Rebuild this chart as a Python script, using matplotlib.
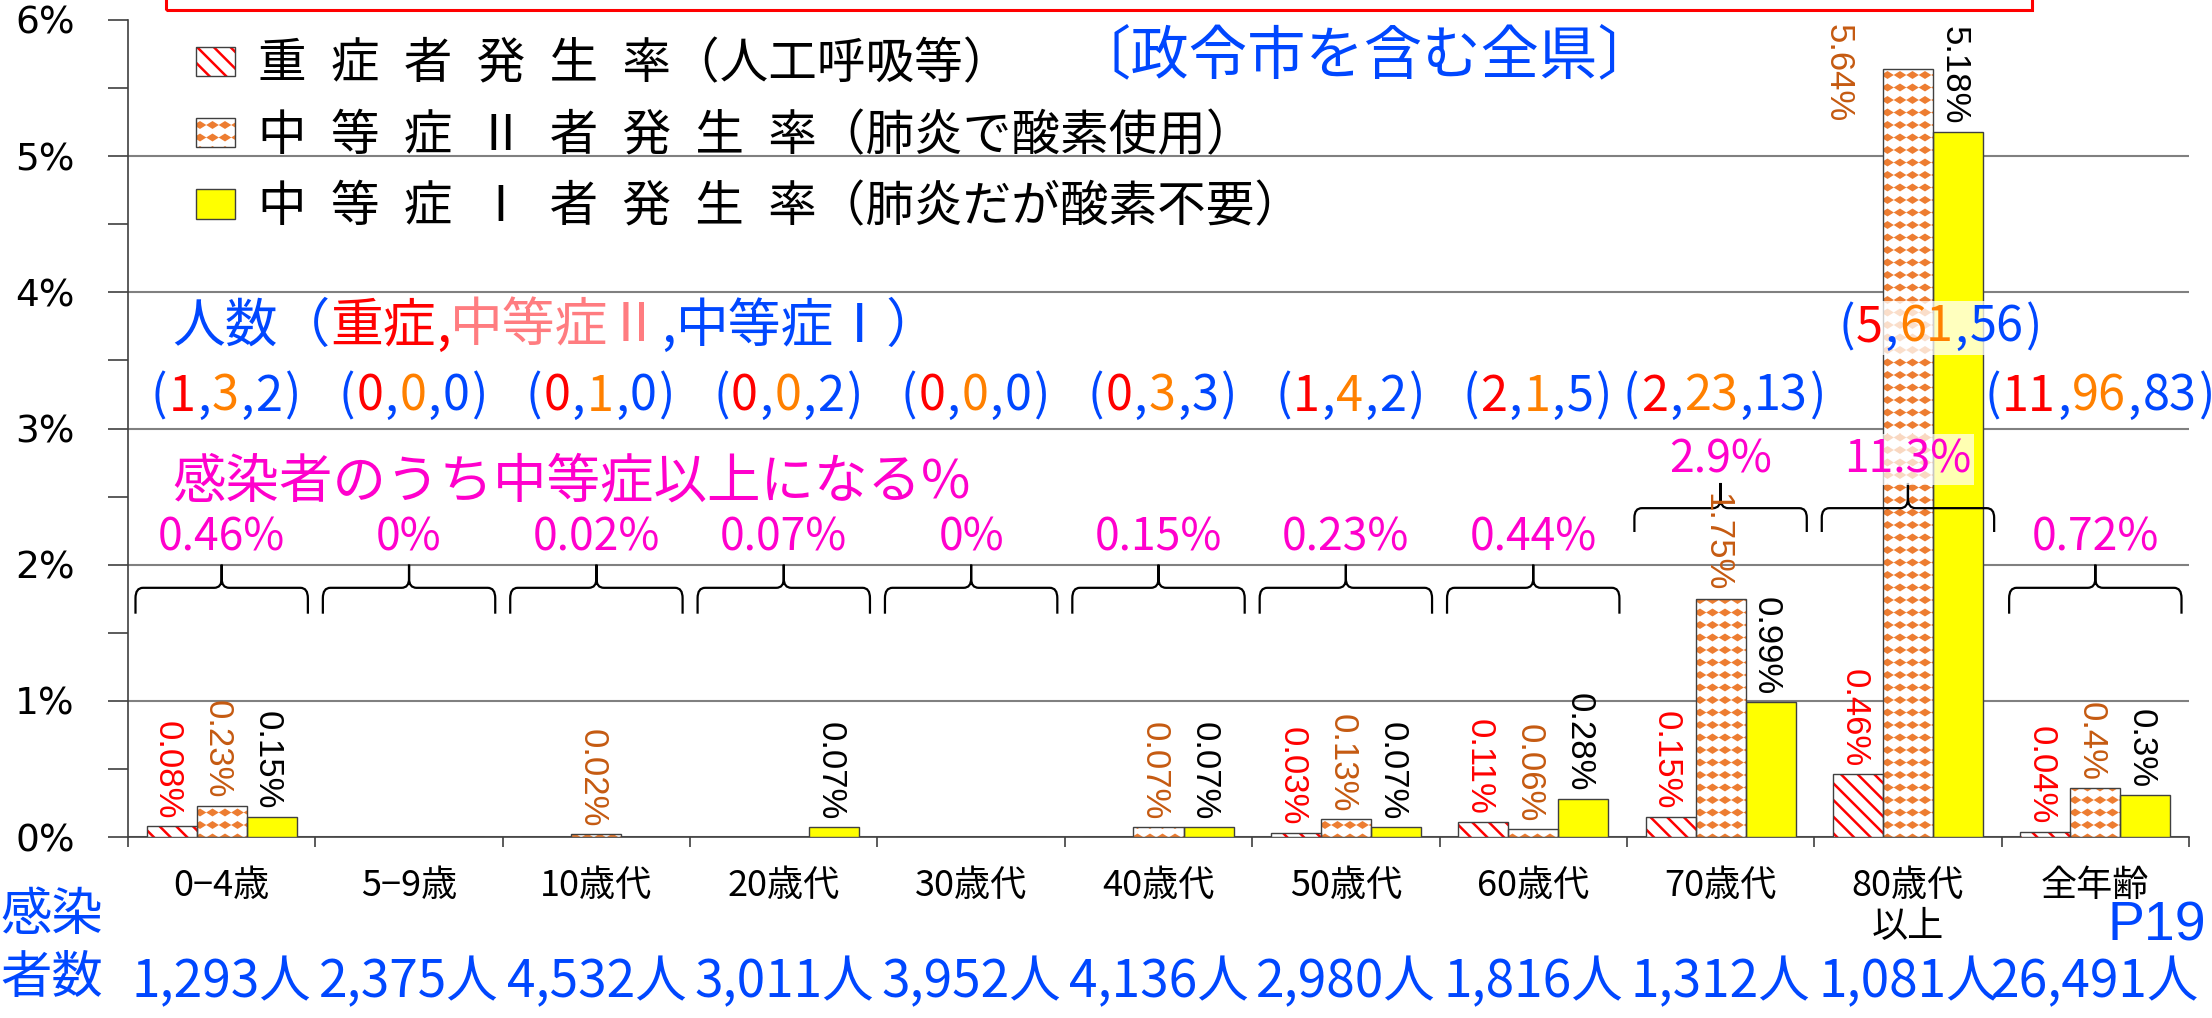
import numpy as np
import matplotlib
matplotlib.use('Agg')
import matplotlib.pyplot as plt
from matplotlib import hatch as mhatch
from matplotlib.path import Path
from matplotlib.patches import Patch, PathPatch, Rectangle
from matplotlib.offsetbox import TextArea, HPacker, AnnotationBbox
import matplotlib.transforms as mtransforms

CJK = ['Noto Sans CJK JP', 'DejaVu Sans']
NARROW = ['Liberation Sans Narrow', 'Liberation Sans', 'DejaVu Sans']

BLUE = '#0047FF'
RED = '#FF0000'
ORANGE = '#FF8000'
SALMON = '#FF7C80'
MAGENTA = '#FF00CC'

# ---- data ----
groups = ['0−4歳', '5−9歳', '10歳代', '20歳代', '30歳代', '40歳代',
          '50歳代', '60歳代', '70歳代', '80歳代\n以上', '全年齢']
infected = [1293, 2375, 4532, 3011, 3952, 4136, 2980, 1816, 1312, 1081, 26491]

rate_severe = [0.08, 0, 0, 0, 0, 0, 0.03, 0.11, 0.15, 0.46, 0.04]
rate_mod2 = [0.23, 0, 0.02, 0, 0, 0.07, 0.13, 0.06, 1.75, 5.64, 0.36]
rate_mod1 = [0.15, 0, 0, 0.07, 0, 0.07, 0.07, 0.28, 0.99, 5.18, 0.31]

lab_severe = ['0.08%', '', '', '', '', '', '0.03%', '0.11%', '0.15%', '0.46%', '0.04%']
lab_mod2 = ['0.23%', '', '0.02%', '', '', '0.07%', '0.13%', '0.06%', '1.75%', '5.64%', '0.4%']
lab_mod1 = ['0.15%', '', '', '0.07%', '', '0.07%', '0.07%', '0.28%', '0.99%', '5.18%', '0.3%']

n_severe = [1, 0, 0, 0, 0, 0, 1, 2, 2, 5, 11]
n_mod2 = [3, 0, 1, 0, 0, 3, 4, 1, 23, 61, 96]
n_mod1 = [2, 0, 0, 2, 0, 3, 2, 5, 13, 56, 83]

pct_labels = ['0.46%', '0%', '0.02%', '0.07%', '0%', '0.15%', '0.23%', '0.44%',
              '2.9%', '11.3%', '0.72%']


# filled diamonds on a square grid, used in place of the '*' hatch
class DiamondGrid(mhatch.HatchPatternBase):
    def __init__(self, hatch, density):
        self.num_rows = hatch.count('*') * 8
        self.num_vertices = 5 * (self.num_rows + 1) ** 2 if self.num_rows else 0

    def set_vertices_and_codes(self, vertices, codes):
        step = 1.0 / self.num_rows
        shape = np.array([[0, 0.2], [0.32, 0], [0, -0.2], [-0.32, 0], [0, 0.2]]) * step
        k = 0
        for i in range(self.num_rows + 1):
            for j in range(self.num_rows + 1):
                vertices[k:k + 5] = shape + (j * step, i * step)
                codes[k:k + 5] = [Path.MOVETO, Path.LINETO, Path.LINETO,
                                  Path.LINETO, Path.CLOSEPOLY]
                k += 5


mhatch._hatch_types = [t for t in mhatch._hatch_types if t is not mhatch.Stars] + [DiamondGrid]
plt.rcParams['hatch.linewidth'] = 1.8


def color_text(ax, xy, parts, size, align=(0.5, 0.5), coords='data', sep=0, box=None):
    areas = [TextArea(s, textprops=dict(color=c, fontsize=size, family=CJK)) for s, c in parts]
    pack = HPacker(children=areas, align='baseline', pad=0, sep=sep)
    ab = AnnotationBbox(pack, xy, xycoords=coords, box_alignment=align,
                        frameon=box is not None, pad=0.15, bboxprops=box,
                        annotation_clip=False, zorder=6)
    ax.add_artist(ab)
    return ab


def brace(ax, xc, half, y_tip, y_mid, y_end):
    x0, x1 = xc - half, xc + half
    r = 0.04
    ry = (y_mid - y_end) * 0.4
    ys = y_mid + (y_tip - y_mid) * 0.4
    verts = [(x0, y_end), (x0, y_mid - ry), (x0, y_mid), (x0 + r, y_mid),
             (xc - r, y_mid), (xc, y_mid), (xc, ys), (xc, y_tip),
             (xc, ys), (xc, y_mid), (xc + r, y_mid),
             (x1 - r, y_mid), (x1, y_mid), (x1, y_mid - ry), (x1, y_end)]
    codes = [Path.MOVETO, Path.LINETO, Path.CURVE3, Path.CURVE3,
             Path.LINETO, Path.CURVE3, Path.CURVE3, Path.LINETO,
             Path.LINETO, Path.CURVE3, Path.CURVE3,
             Path.LINETO, Path.CURVE3, Path.CURVE3, Path.LINETO]
    ax.add_patch(PathPatch(Path(verts, codes), fill=False, edgecolor='black',
                           linewidth=1.6, zorder=5, clip_on=False))


fig = plt.figure(figsize=(22.12, 10.18), dpi=100)
ax = fig.add_axes([128 / 2212, 181 / 1018, (2189 - 128) / 2212, 817 / 1018])

x = np.arange(len(groups))
w = 0.267

series = [
    (rate_severe, lab_severe, 'white', RED, '\\\\', RED),
    (rate_mod2, lab_mod2, 'white', '#ED7D31', '*', '#C55A11'),
    (rate_mod1, lab_mod1, '#FFFF00', '#FFFF00', None, 'black'),
]
handles = []
for k, (vals, labs, fc, hc, hatch, tc) in enumerate(series):
    xs = x + (k - 1) * w
    ax.bar(xs, vals, w, color=fc, edgecolor=hc, hatch=hatch, linewidth=0, zorder=3)
    ax.bar(xs, vals, w, fill=False, edgecolor='#404040', linewidth=1.0, zorder=4)
    handles.append((Patch(facecolor=fc, edgecolor=hc, hatch=hatch, linewidth=0),
                    Patch(fill=False, edgecolor='#404040', linewidth=1.0)))
    for xi, v, s in zip(xs, vals, labs):
        if not s:
            continue
        if v > 5.5:
            # no room above the bar: put it beside, hanging from the top
            ax.text(xi - 1.4 * w, 5.97, s, rotation=-90, ha='center', va='top',
                    color=tc, fontsize=25, family=NARROW, zorder=6)
        else:
            ax.annotate(s, (xi, v), xytext=(-3, 5), textcoords='offset points',
                        rotation=-90, ha='center', va='bottom', color=tc,
                        fontsize=25, family=NARROW, zorder=6)

# axes styling
ax.set_xlim(-0.5, len(groups) - 0.5)
ax.set_ylim(0, 6)
ax.set_yticks(range(7), [f'{v}%' for v in range(7)], fontsize=27)
ax.set_yticks(np.arange(0.5, 6, 1), minor=True)
ax.tick_params(axis='y', which='both', length=14.4, width=1.2, color='#404040', pad=24)
ax.set_xticks(x, groups, fontsize=26, family=CJK, linespacing=1.2)
ax.set_xticks(np.arange(-0.5, len(groups), 1), minor=True)
ax.tick_params(axis='x', which='major', length=0, pad=22)
ax.tick_params(axis='x', which='minor', length=7.2, width=1.2, color='#404040')
ax.yaxis.grid(True, color='#808080', linewidth=1.5, zorder=0)
ax.set_axisbelow(True)
ax.get_ygridlines()[-1].set_visible(False)
for side in ['top', 'right']:
    ax.spines[side].set_visible(False)
ax.spines['left'].set_color('#404040')
ax.spines['bottom'].set_color('#404040')
ax.spines['left'].set_linewidth(1.2)
ax.spines['bottom'].set_linewidth(1.2)

# legend
ES = '\u2002'
leg_labels = [ES.join('重症者発生率') + '（人工呼吸等）',
              ES.join('中等症Ⅱ者発生率') + '（肺炎で酸素使用）',
              ES.join('中等症Ⅰ者発生率') + '（肺炎だが酸素不要）']
ax.legend(handles, leg_labels, loc='upper left', bbox_to_anchor=(196 / 2212, 1 - 40 / 1018),
          bbox_transform=fig.transFigure, frameon=False, prop=dict(family=CJK, size=35),
          handlelength=0.8, handleheight=0.55, handletextpad=0.48, labelspacing=0.45,
          borderpad=0, borderaxespad=0)

ax.text(6.1, 5.73, '〔政令市を含む全県〕', color=BLUE, fontsize=42, family=CJK,
        ha='center', va='center')

# counts (severe, moderate II, moderate I)
color_text(ax, (-0.265, 3.75), [('人数（', BLUE), ('重症', RED), (',', RED),
                                 ('中等症Ⅱ', SALMON), (',', BLUE), ('中等症Ⅰ）', BLUE)],
           38, align=(0, 0.5))
top_group = int(np.argmax(rate_mod2))
for i in x:
    parts = [('(', BLUE), (str(n_severe[i]), RED), (',', BLUE), (str(n_mod2[i]), ORANGE),
             (',', BLUE), (str(n_mod1[i]), BLUE), (')', BLUE)]
    if max(rate_mod2[i], rate_mod1[i]) > 3:
        color_text(ax, (i + 0.17, 3.74), parts, 35, sep=1,
                   box=dict(facecolor='white', edgecolor='none', alpha=0.75))
    else:
        color_text(ax, (i + 0.02, 3.23), parts, 35, sep=1)

# share of infected who became moderate or worse
ax.text(-0.265, 2.61, '感染者のうち中等症以上になる%', color=MAGENTA, fontsize=38.5,
        family=CJK, ha='left', va='center', zorder=6)
for i in x:
    high = max(rate_mod2[i], rate_mod1[i]) > 1.5
    if high:
        y_lab, tip, mid, end = 2.77, 2.60, 2.415, 2.24
    else:
        y_lab, tip, mid, end = 2.20, 2.0, 1.83, 1.64
    box = dict(facecolor='white', edgecolor='none', alpha=0.7, pad=2) if i == top_group else None
    ax.text(i, y_lab, pct_labels[i], color=MAGENTA, fontsize=32, family=CJK,
            ha='center', va='center', zorder=6, bbox=box)
    brace(ax, i, 0.46, tip, mid, end)

# bottom: number of infected
bt = mtransforms.blended_transform_factory(ax.transData, fig.transFigure)
fig.text(0.0, 0.101, '感染', color=BLUE, fontsize=37, family=CJK, ha='left', va='center')
fig.text(0.0, 0.039, '者数', color=BLUE, fontsize=37, family=CJK, ha='left', va='center')
for i in x:
    ax.text(i, 0.035, f'{infected[i]:,}人', transform=bt, color=BLUE, fontsize=37,
            family=CJK, ha='center', va='center', clip_on=False)
fig.text(0.9973, 0.0894, 'P19', color=BLUE, fontsize=40, family=['Liberation Sans', 'DejaVu Sans'],
         ha='right', va='center')

# red frame running off the top edge
fig.add_artist(Rectangle((166 / 2212, 1 - 10 / 1018), (2032 - 166) / 2212, 0.1,
                         transform=fig.transFigure, fill=False, edgecolor='red', linewidth=2.2))

fig.savefig('out.png', dpi=100)
